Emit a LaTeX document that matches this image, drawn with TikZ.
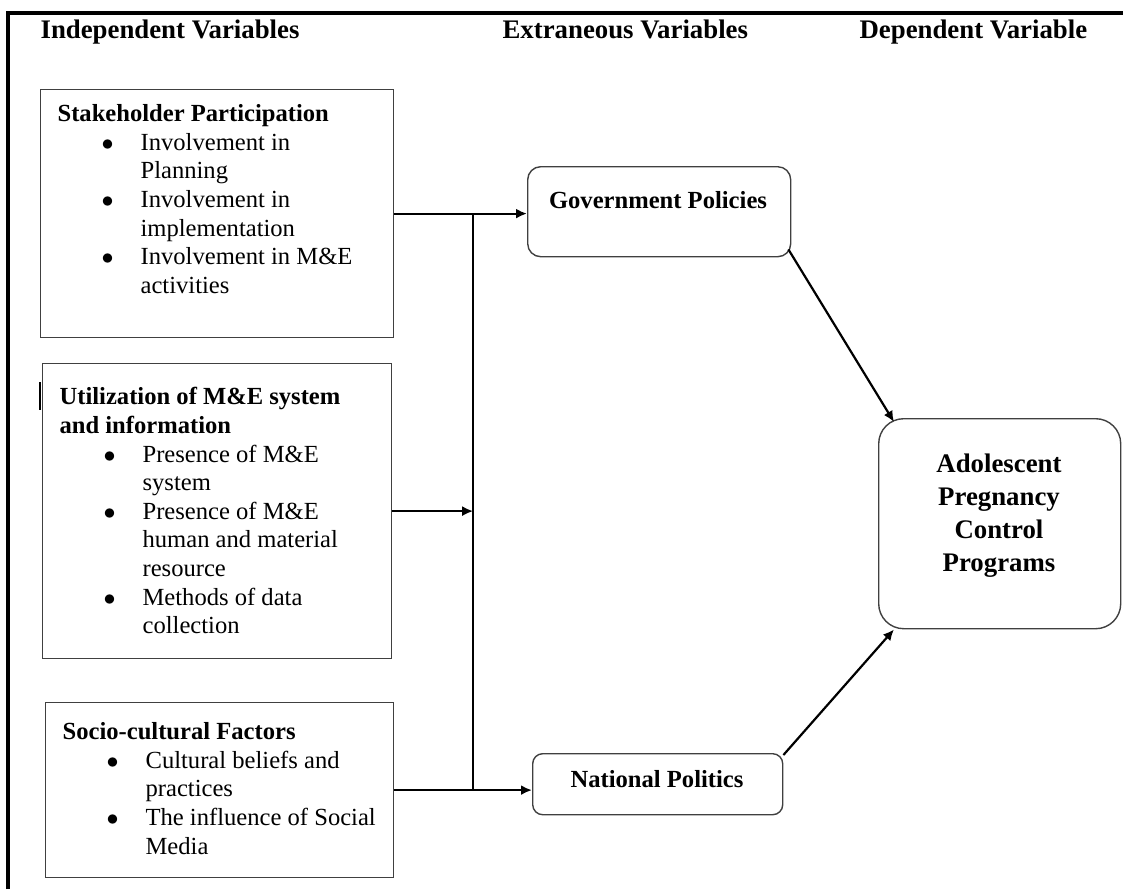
\documentclass[tikz,border=0pt]{standalone}
\usepackage{fontspec}
\setmainfont{Liberation Serif}
\usepackage{tikz}
\usetikzlibrary{positioning}
\usetikzlibrary{arrows.meta}
\tikzset{
    ivbox/.style = {rectangle, draw=black!75, line width=0.6pt, inner sep=0pt, anchor=north west},
    exbox/.style = {rectangle, rounded corners=#1, draw=black!75, line width=0.7pt, inner sep=0pt, anchor=north west},
    heading/.style = {font=\fontsize{13.4}{16}\selectfont\bfseries, inner sep=0pt, anchor=base west},
    factor/.style = {font=\fontsize{12.3}{14.3}\selectfont, align=left, inner sep=0pt, anchor=north west},
    link/.style = {-{Latex[length=5.5pt,width=5pt]}, line width=1.1pt}}
\newcommand{\bul}{\hspace*{22pt}\makebox[19.5pt][l]{$\bullet$}}
\newcommand{\cont}{\hspace*{41.5pt}}

\begin{document}
\begin{tikzpicture}[x=0.5pt, y=-0.5pt, semithick,
    exlabel/.style = {font=\fontsize{12.3}{14.3}\selectfont\bfseries, inner sep=0pt},
    dvtext/.style = {font=\fontsize{13.4}{16.5}\selectfont\bfseries, align=center, inner sep=0pt}]
    \useasboundingbox (0,0) rectangle (1123,889);
    % frame
    \draw[line width=2pt] (8,889) -- (8,13) -- (1123,13);
    % headings
    \node[heading] (iv) at (40,38) {Independent Variables};
    \node[heading] (ev) at (502,38) {Extraneous Variables};
    \node[heading] (dv) at (859,38) {Dependent Variable};
    % independent variables
    \node[ivbox, minimum width=176.5pt, minimum height=124pt] (sp) at (40,89) {};
    \node[factor] (sptxt) at (57,104) {\textbf{Stakeholder Participation}\\
        \bul Involvement in\\ \cont Planning\\
        \bul Involvement in\\ \cont implementation\\
        \bul Involvement in M\&E\\ \cont activities};
    \node[ivbox, minimum width=174.5pt, minimum height=147.5pt] (ue) at (42,363) {};
    \node[factor] (uetxt) at (59,387) {\textbf{Utilization of M\&E system}\\ \textbf{and information}\\
        \bul Presence of M\&E\\ \cont system\\
        \bul Presence of M\&E\\ \cont human and material\\ \cont resource\\
        \bul Methods of data\\ \cont collection};
    \node[ivbox, minimum width=174pt, minimum height=87.5pt] (sc) at (45,702) {};
    \node[factor] (sctxt) at (62,722) {\textbf{Socio-cultural Factors}\\
        \bul Cultural beliefs and\\ \cont practices\\
        \bul The influence of Social\\ \cont Media};
    \draw[line width=1pt] (40,382) -- (40,410);
    % extraneous variables
    \node[exbox=6.5pt, minimum width=131.5pt, minimum height=45pt] (gp) at (527,166) {};
    \node[exlabel] (gptxt) at (658,200) {Government Policies};
    \node[exbox=5pt, minimum width=125pt, minimum height=30.5pt] (np) at (532,753) {};
    \node[exlabel] (nptxt) at (657,779) {National Politics};
    % dependent variable
    \node[exbox=12.5pt, minimum width=121pt, minimum height=105pt] (apc) at (878,418) {};
    \node[dvtext] (apctxt) at (999,516) {Adolescent\\ Pregnancy\\ Control\\ Programs};
    % connectors
    \path (sp.east) ++(79,0) coordinate (jtop);
    \path (sc.east) ++(79,0) coordinate (jbot);
    \draw[line width=1.1pt] (jtop) -- (jbot);
    \draw[link] (sp.east) -- (sp.east -| gp.west);
    \draw[link] (ue.east) -- (ue.east -| jtop);
    \draw[link] (sc.east) -- (sc.east -| np.west);
    \draw[link] ([xshift=-1.5pt,yshift=4pt]gp.south east) -- ([xshift=8pt,yshift=-2pt]apc.north west);
    \draw[link] ([yshift=-1pt]np.north east) -- ([xshift=8pt]apc.south west);
\end{tikzpicture}
\end{document}
